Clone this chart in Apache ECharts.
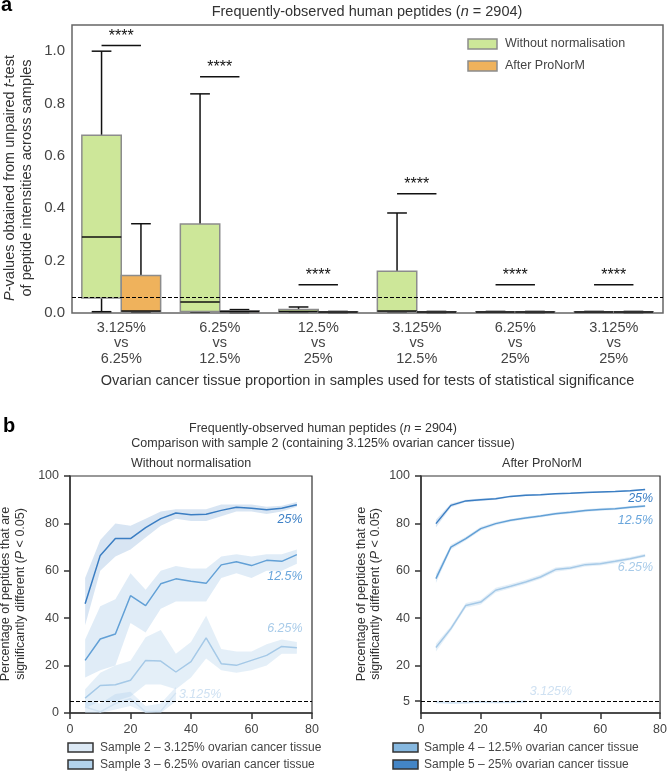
<!DOCTYPE html>
<html><head><meta charset="utf-8">
<script src="https://cdn.jsdelivr.net/npm/echarts@6/dist/echarts.min.js"></script>
<style>html,body{margin:0;padding:0;background:#fff}#c{width:670px;height:772px}</style>
</head><body><div id="c"></div><script>
// ---------- Panel a data ----------
const comparisons = ['3.125%\nvs\n6.25%', '6.25%\nvs\n12.5%', '12.5%\nvs\n25%', '3.125%\nvs\n12.5%', '6.25%\nvs\n25%', '3.125%\nvs\n25%'];
// [min, q1, median, q3, max]
const boxWithout = [
  [0.005, 0.057, 0.29, 0.679, 1.0],
  [0.004, 0.006, 0.042, 0.34, 0.837],
  [0.003, 0.004, 0.006, 0.013, 0.023],
  [0.004, 0.005, 0.008, 0.159, 0.382],
  [0.003, 0.003, 0.004, 0.005, 0.006],
  [0.003, 0.003, 0.004, 0.005, 0.006]
];
const boxAfter = [
  [0.003, 0.005, 0.008, 0.143, 0.341],
  [0.002, 0.004, 0.006, 0.009, 0.013],
  [0.002, 0.003, 0.004, 0.005, 0.006],
  [0.002, 0.003, 0.004, 0.005, 0.006],
  [0.002, 0.003, 0.004, 0.005, 0.006],
  [0.002, 0.003, 0.004, 0.005, 0.006]
];
const sigBarY = [1.022, 0.902, 0.108, 0.455, 0.108, 0.108];
const sigLabel = '****';
const pThresholdA = 0.055;
const yTicksA = [0, 0.2, 0.4, 0.6, 0.8, 1.0];

// ---------- Panel b data ----------
const sampleX = [5, 10, 15, 20, 25, 30, 35, 40, 45, 50, 55, 60, 65, 70, 75];
const lowX = [5, 10, 15, 20, 25, 30, 35];
// Without normalisation
const raw25 = [46.1, 66.5, 73.6, 73.6, 78.2, 82.0, 84.4, 83.7, 83.9, 85.5, 86.8, 86.4, 85.8, 86.4, 87.9];
const raw25Lo = [37, 60, 66, 69, 74, 79, 82, 81, 81, 83, 85, 85, 84, 85, 87];
const raw25Hi = [57, 73, 80, 79, 82, 85, 86, 86, 86, 88, 88, 88, 87, 87.5, 89];
const raw12 = [22.2, 31.2, 33.3, 49.5, 45.3, 54.5, 56.6, 55.6, 54.7, 62.5, 63.8, 62.2, 64.4, 64.0, 66.8];
const raw12Lo = [15, 18, 20, 38, 34, 44, 47, 47, 47, 57, 59, 57, 60, 60, 63];
const raw12Hi = [31, 45, 48, 59, 52, 60, 62, 61, 61, 66, 67, 66, 67, 67, 69];
const raw6 = [6.3, 11.6, 11.9, 13.8, 22.2, 21.9, 17.3, 21.7, 31.7, 20.8, 20.1, 22.2, 24.3, 28.1, 27.5];
const raw6Lo = [2, 5, 5, 7, 12, 12, 10, 15, 23, 18, 17, 18, 20, 25, 25];
const raw6Hi = [10, 17, 20, 22, 32, 35, 25, 30, 41, 27, 26, 26, 29, 31, 30];
const raw3 = [2.5, 0.5, 4, 6, 0.5, 0.8, 8.5];
const raw3Lo = [0, 0, 1.5, 3, 0, 0, 5];
const raw3Hi = [5, 4, 8, 9, 3, 4, 11];
// After ProNorM
const pro25 = [79.9, 87.6, 89.5, 90.0, 90.4, 91.4, 91.9, 92.1, 92.5, 92.7, 93.0, 93.3, 93.5, 93.8, 94.3];
const pro25Lo = [78.3, 86.8, 89.0, 89.5, 90.0, 91.0, 91.5, 91.8, 92.2, 92.4, 92.7, 93.0, 93.2, 93.5, 94.0];
const pro25Hi = [81.5, 88.4, 90.0, 90.5, 90.8, 91.8, 92.3, 92.4, 92.8, 93.0, 93.3, 93.6, 93.8, 94.1, 94.6];
const pro12 = [56.7, 70.0, 73.6, 77.8, 79.9, 81.3, 82.3, 83.1, 84.1, 84.7, 85.4, 85.9, 86.2, 86.8, 87.3];
const pro12Lo = [54.8, 69.0, 72.8, 77.0, 79.2, 80.7, 81.7, 82.5, 83.5, 84.1, 84.8, 85.3, 85.7, 86.3, 86.8];
const pro12Hi = [58.6, 71.0, 74.4, 78.6, 80.6, 81.9, 82.9, 83.7, 84.7, 85.3, 86.0, 86.5, 86.7, 87.3, 87.8];
const pro6 = [27.6, 35.6, 45.4, 46.8, 51.8, 53.5, 55.3, 57.4, 60.5, 61.2, 62.6, 63.0, 64.0, 65.1, 66.5];
const pro6Lo = [26.0, 34.6, 44.4, 45.8, 50.8, 52.6, 54.4, 56.5, 59.6, 60.4, 61.8, 62.2, 63.2, 64.4, 65.8];
const pro6Hi = [29.2, 36.6, 46.4, 47.8, 52.8, 54.4, 56.2, 58.3, 61.4, 62.0, 63.4, 63.8, 64.8, 65.8, 67.2];
const pro3 = [4.6, 4.3, 4.4, 4.7, 4.5, 4.6, 4.8];
const pro3Lo = [4.0, 3.8, 3.9, 4.2, 4.0, 4.1, 4.3];
const pro3Hi = [5.2, 4.8, 4.9, 5.2, 5.0, 5.1, 5.3];
const pThresholdB = 5;
const yTicksRight = [0, 5, 20, 40, 60, 80, 100];
const lineNames = ['25%', '12.5%', '6.25%', '3.125%'];
const legendLeft = ['Sample 2 \u2013 3.125% ovarian cancer tissue', 'Sample 3 \u2013 6.25% ovarian cancer tissue'];
const legendRight = ['Sample 4 \u2013 12.5% ovarian cancer tissue', 'Sample 5 \u2013 25% ovarian cancer tissue'];

// ---------- styles ----------
const FONT = '"Liberation Sans", Arial, Helvetica, sans-serif';
const GREEN = '#cde799', ORANGE = '#efb25c';
const C25 = '#3b7ec3', C12 = '#62a0d6', C6 = '#a5c9e7', C3 = '#d3e4f3';
const B25 = 'rgba(59,126,195,0.2)', B12 = 'rgba(98,160,214,0.2)', B6 = 'rgba(165,201,231,0.3)', B3 = 'rgba(200,222,242,0.45)';

const chart = echarts.init(document.getElementById('c'));

function boxRenderer(side, fill) {
  return function (params, api) {
    const cat = api.value(0);
    const band = api.size([1, 0])[0];
    const cx = api.coord([cat, 0])[0];
    const w = band * 0.4;
    const left = side < 0 ? cx - w : cx;
    const mid = left + w / 2;
    const yy = k => api.coord([cat, api.value(k)])[1];
    const yMin = yy(1), yQ1 = yy(2), yMed = yy(3), yQ3 = yy(4), yMax = yy(5);
    const hc = w / 4;
    const ls = { stroke: '#111', lineWidth: 1.5 };
    return { type: 'group', children: [
      { type: 'line', shape: { x1: mid, y1: yQ3, x2: mid, y2: yMax }, style: ls },
      { type: 'line', shape: { x1: mid, y1: yQ1, x2: mid, y2: yMin }, style: ls },
      { type: 'line', shape: { x1: mid - hc, y1: yMax, x2: mid + hc, y2: yMax }, style: ls },
      { type: 'line', shape: { x1: mid - hc, y1: yMin, x2: mid + hc, y2: yMin }, style: ls },
      { type: 'rect', shape: { x: left, y: yQ3, width: w, height: Math.max(yQ1 - yQ3, 0.5) }, style: { fill: fill, stroke: '#8c8c8c', lineWidth: 1.5 } },
      { type: 'line', shape: { x1: left, y1: yMed, x2: left + w, y2: yMed }, style: ls }
    ] };
  };
}
function sigRenderer(params, api) {
  const cat = api.value(0);
  const band = api.size([1, 0])[0];
  const cx = api.coord([cat, 0])[0];
  const y = api.coord([cat, api.value(1)])[1];
  return { type: 'group', children: [
    { type: 'line', shape: { x1: cx - band * 0.2, y1: y, x2: cx + band * 0.2, y2: y }, style: { stroke: '#111', lineWidth: 1.5 } },
    { type: 'text', style: { text: sigLabel, x: cx, y: y - 1, align: 'center', verticalAlign: 'bottom', fontSize: 16, fontFamily: FONT, fill: '#111' } }
  ] };
}
function bandRenderer(xs, lo, hi, color) {
  return function (params, api) {
    const pts = [];
    for (let i = 0; i < xs.length; i++) pts.push(api.coord([xs[i], hi[i]]));
    for (let i = xs.length - 1; i >= 0; i--) pts.push(api.coord([xs[i], lo[i]]));
    return { type: 'polygon', shape: { points: pts }, style: { fill: color } };
  };
}
function bandSeries(idx, xs, lo, hi, color) {
  return { type: 'custom', xAxisIndex: idx, yAxisIndex: idx, z: 1, silent: true,
    renderItem: bandRenderer(xs, lo, hi, color), data: [[xs[0], lo[0]]], encode: { x: 0, y: 1 } };
}
function lineSeries(idx, xs, ys, color, extra) {
  return Object.assign({ type: 'line', xAxisIndex: idx, yAxisIndex: idx, z: 3, showSymbol: false, silent: true,
    data: xs.map((x, i) => [x, ys[i]]), lineStyle: { color: color, width: 1.5 }, itemStyle: { color: color } }, extra || {});
}
function dashed(v) {
  return { silent: true, symbol: 'none', label: { show: false }, animation: false,
    lineStyle: { color: '#000', type: [4, 2], width: 1 }, data: [{ yAxis: v }] };
}

const axisB = { lineStyle: { color: '#333', width: 1.5 } };
function xAxisB(idx) {
  return { gridIndex: idx, type: 'value', min: 0, max: 80, interval: 20,
    axisLine: Object.assign({ show: true }, axisB), axisTick: Object.assign({ show: true, length: 6 }, axisB),
    axisLabel: { fontSize: 12.5, color: '#444', margin: 10, fontFamily: FONT }, splitLine: { show: false } };
}

chart.setOption({
  animation: false,
  grid: [
    { left: 72, top: 25, width: 591, height: 288, show: true, borderColor: '#666', borderWidth: 1.5 },
    { left: 70, top: 476, width: 242, height: 237, show: true, borderColor: '#333', borderWidth: 1.2 },
    { left: 421, top: 476, width: 242, height: 237, show: true, borderColor: '#333', borderWidth: 1.2 }
  ],
  xAxis: [
    { gridIndex: 0, type: 'category', data: comparisons,
      axisLine: { show: false }, axisTick: { show: false },
      axisLabel: { interval: 0, fontSize: 14.5, lineHeight: 15.5, color: '#444', margin: 7, fontFamily: FONT },
      name: 'Ovarian cancer tissue proportion in samples used for tests of statistical significance',
      nameLocation: 'middle', nameGap: 60, nameTextStyle: { fontSize: 14.5, color: '#333', fontFamily: FONT } },
    xAxisB(1), xAxisB(2)
  ],
  yAxis: [
    { gridIndex: 0, type: 'value', min: 0, max: 1.1, interval: 0.2,
      axisLine: { show: false }, axisTick: { show: false }, splitLine: { show: false },
      axisLabel: { customValues: yTicksA, formatter: v => v.toFixed(1), fontSize: 15, color: '#444', margin: 7, fontFamily: FONT } },
    { gridIndex: 1, type: 'value', min: 0, max: 100, interval: 20,
      axisLine: Object.assign({ show: true }, axisB), axisTick: Object.assign({ show: true, length: 6 }, axisB),
      axisLabel: { fontSize: 12.5, color: '#444', margin: 11, fontFamily: FONT }, splitLine: { show: false } },
    { gridIndex: 2, type: 'value', min: 0, max: 100, interval: 20,
      axisLine: Object.assign({ show: true }, axisB),
      axisTick: Object.assign({ show: true, length: 6, customValues: yTicksRight }, axisB),
      axisLabel: { customValues: yTicksRight, fontSize: 12.5, color: '#444', margin: 11, fontFamily: FONT }, splitLine: { show: false } }
  ],
  series: [
    { type: 'custom', name: 'Without normalisation', xAxisIndex: 0, yAxisIndex: 0, z: 2,
      renderItem: boxRenderer(-1, GREEN), data: boxWithout.map((b, i) => [i].concat(b)), encode: { x: 0, y: [1, 2, 3, 4, 5] } },
    { type: 'custom', name: 'After ProNorM', xAxisIndex: 0, yAxisIndex: 0, z: 2,
      renderItem: boxRenderer(1, ORANGE), data: boxAfter.map((b, i) => [i].concat(b)), encode: { x: 0, y: [1, 2, 3, 4, 5] } },
    { type: 'custom', xAxisIndex: 0, yAxisIndex: 0, z: 3,
      renderItem: sigRenderer, data: sigBarY.map((y, i) => [i, y]), encode: { x: 0, y: 1 },
      markLine: dashed(pThresholdA) },
    // left b
    bandSeries(1, lowX, raw3Lo, raw3Hi, B3),
    bandSeries(1, sampleX, raw6Lo, raw6Hi, B6),
    bandSeries(1, sampleX, raw12Lo, raw12Hi, B12),
    bandSeries(1, sampleX, raw25Lo, raw25Hi, B25),
    lineSeries(1, lowX, raw3, C3),
    lineSeries(1, sampleX, raw6, C6),
    lineSeries(1, sampleX, raw12, C12),
    lineSeries(1, sampleX, raw25, C25, { markLine: dashed(pThresholdB) }),
    // right b
    bandSeries(2, lowX, pro3Lo, pro3Hi, B3),
    bandSeries(2, sampleX, pro6Lo, pro6Hi, B6),
    bandSeries(2, sampleX, pro12Lo, pro12Hi, B12),
    bandSeries(2, sampleX, pro25Lo, pro25Hi, B25),
    lineSeries(2, lowX, pro3, C3),
    lineSeries(2, sampleX, pro6, C6),
    lineSeries(2, sampleX, pro12, C12),
    lineSeries(2, sampleX, pro25, C25, { markLine: dashed(pThresholdB) })
  ]
});

// ---------- text & legends via graphic ----------
function txt(x, y, text, opts) {
  const o = opts || {};
  return { type: 'text', x: x, y: y, rotation: o.rot || 0, silent: true, z: 100,
    style: Object.assign({ text: text, fill: o.fill || '#333', fontSize: o.size || 13, fontFamily: FONT,
      fontStyle: o.italic ? 'italic' : 'normal', fontWeight: o.bold ? 'bold' : 'normal',
      align: o.align || 'center', verticalAlign: o.va || 'middle',
      textAlign: o.align || 'center', textVerticalAlign: o.va || 'middle' }, o.rich ? { rich: o.rich } : {}) };
}
function richIt(size, fill) {
  return { r: { fontSize: size, fontFamily: FONT, fill: fill }, i: { fontSize: size, fontFamily: FONT, fontStyle: 'italic', fill: fill } };
}
function swatch(x, y, w, h, fill, stroke) {
  return { type: 'rect', x: x, y: y, silent: true, z: 100, shape: { x: 0, y: 0, width: w, height: h }, style: { fill: fill, stroke: stroke, lineWidth: 1.5 } };
}
const px = (g, pt) => chart.convertToPixel({ xAxisIndex: g, yAxisIndex: g }, pt);
const lblColors = ['#3d80c6', '#6aa6dc', '#a8cbe9', '#cfe1f2'];
const leftPos = [[76.9, 81.7], [76.9, 57.7], [76.9, 35.5], [43, 7.7]];
const rightPos = [[77.7, 90.6], [77.7, 81.3], [77.7, 61.5], [43.5, 8.9]];
const g = [];
g.push(txt(1, 5, 'a', { size: 20, bold: true, fill: '#000', align: 'left' }));
g.push(txt(3, 426, 'b', { size: 20, bold: true, fill: '#000', align: 'left' }));
g.push(txt(367, 12, '{r|Frequently-observed human peptides (}{i|n}{r| = 2904)}', { size: 14.5, rich: richIt(14.5, '#333') }));
g.push(txt(10, 178, '{i|P}{r|-values obtained from unpaired }{i|t}{r|-test}', { rot: Math.PI / 2, size: 14.5, rich: richIt(14.5, '#333') }));
g.push(txt(27, 178, 'of peptide intensities across samples', { rot: Math.PI / 2, size: 14.5 }));
g.push(swatch(468, 39, 29, 10, GREEN, '#8c8c8c'));
g.push(swatch(468, 61, 29, 10, ORANGE, '#8c8c8c'));
g.push(txt(505, 44, 'Without normalisation', { size: 12.5, align: 'left', fill: '#444' }));
g.push(txt(505, 66, 'After ProNorM', { size: 12.5, align: 'left', fill: '#444' }));
g.push(txt(323, 429, '{r|Frequently-observed human peptides (}{i|n}{r| = 2904)}', { size: 12.5, rich: richIt(12.5, '#333') }));
g.push(txt(323, 444, 'Comparison with sample 2 (containing 3.125% ovarian cancer tissue)', { size: 12.5 }));
g.push(txt(191, 464, 'Without normalisation', { size: 12.5 }));
g.push(txt(542, 464, 'After ProNorM', { size: 12.5 }));
[[6, 20.5], [362, 376]].forEach(xs => {
  g.push(txt(xs[0], 594, 'Percentage of peptides that are', { rot: Math.PI / 2, size: 12.5 }));
  g.push(txt(xs[1], 594, '{r|significantly different (}{i|P}{r| < 0.05)}', { rot: Math.PI / 2, size: 12.5, rich: richIt(12.5, '#333') }));
});
const legFills = ['#dce9f5', '#b3d3ec', '#86b8e0', '#4385c6'];
legendLeft.forEach((t, i) => { g.push(swatch(68, 743 + i * 17, 25, 9, legFills[i], '#333')); g.push(txt(100, 748 + i * 17, t, { size: 12, align: 'left', fill: '#444' })); });
legendRight.forEach((t, i) => { g.push(swatch(393, 743 + i * 17, 25, 9, legFills[i + 2], '#333')); g.push(txt(424, 748 + i * 17, t, { size: 12, align: 'left', fill: '#444' })); });
lineNames.forEach((n, i) => {
  const a = px(1, leftPos[i]);
  g.push(txt(a[0], a[1], n, { size: 12.5, italic: true, fill: lblColors[i], align: i < 3 ? 'right' : 'center' }));
  const b = px(2, rightPos[i]);
  g.push(txt(b[0], b[1], n, { size: 12.5, italic: true, fill: lblColors[i], align: i < 3 ? 'right' : 'center' }));
});
chart.setOption({ graphic: { elements: g } });
</script></body></html>
